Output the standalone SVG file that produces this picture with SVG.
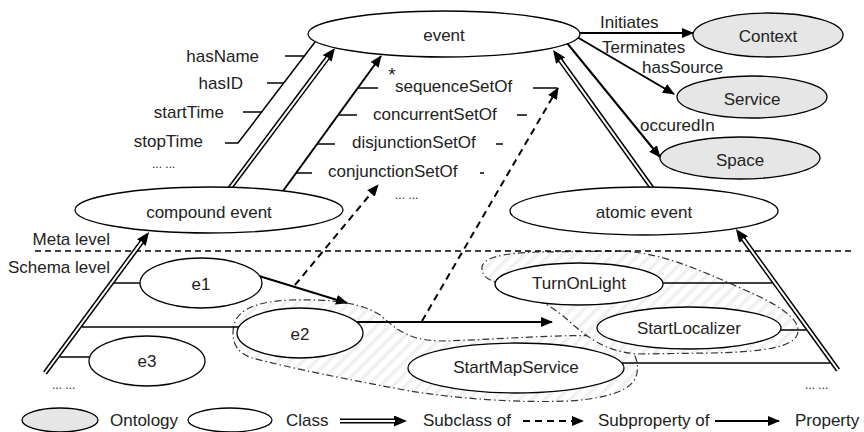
<svg xmlns="http://www.w3.org/2000/svg" width="864" height="432" viewBox="0 0 864 432">
<defs>
<style>
text { font-family: "Liberation Sans", Arial, sans-serif; font-size: 17px; fill: #222; }
.mid { text-anchor: middle; }
.end { text-anchor: end; }
.dots { font-size: 12px; }
.node { fill: #fff; stroke: #000; stroke-width: 1.3; }
.onto { fill: #e6e6e6; stroke: #000; stroke-width: 1.3; }
.prop { fill: none; stroke: #000; stroke-width: 2; }
.thin { fill: none; stroke: #000; stroke-width: 1.5; }
.sub { fill: none; stroke: #000; stroke-width: 2; stroke-dasharray: 7 5; }
.dblo { fill: none; stroke: #000; stroke-width: 5; }
.dbli { fill: none; stroke: #fff; stroke-width: 2; }
.meta { fill: none; stroke: #000; stroke-width: 1.5; stroke-dasharray: 6 4; }
.grp { fill: url(#hatch); stroke: #333; stroke-width: 1.2; stroke-dasharray: 7 3 1.5 3; }
</style>
<pattern id="hatch" width="9" height="9" patternUnits="userSpaceOnUse" patternTransform="rotate(45)">
<rect width="9" height="9" fill="#fff"/>
<rect width="3.5" height="9" fill="#f0f0f0"/>
</pattern>
<marker id="tip" viewBox="0 0 12 10" refX="11" refY="5" markerWidth="12" markerHeight="10" markerUnits="userSpaceOnUse" orient="auto">
<path d="M0,0 L12,5 L0,10 z" fill="#000"/>
</marker>
<marker id="dtip" viewBox="0 0 13 11" refX="1" refY="5.5" markerWidth="13" markerHeight="11" markerUnits="userSpaceOnUse" orient="auto">
<path d="M0,0 L13,5.5 L0,11 z" fill="#000"/>
</marker>
</defs>

<rect width="864" height="432" fill="#fff"/>

<g id="sets">
<path class="grp" d="M233,333 C233,312 250,302 290,300 C330,299 360,302 380,315 C395,327 405,340 440,341 C490,340 560,334 600,336 C628,338 640,355 637,373 C634,390 610,398 570,401 C520,403 460,399 410,391 C350,380 290,368 252,358 C238,353 233,345 233,333 Z"/>
<path class="grp" d="M482,270 C480,258 500,253 540,252 L620,251 C660,252 700,270 745,290 C775,303 800,318 798,332 C796,348 760,352 710,353 L640,354 C610,353 590,340 570,322 C550,303 520,290 495,282 C487,279 483,276 482,270 Z"/>
</g>

<g id="levels">
<line class="meta" x1="35" y1="251" x2="855" y2="251"/>
<text class="end" x="110" y="245">Meta level</text>
<text class="end" x="110" y="273">Schema level</text>
</g>

<g id="connectors">
<path class="dblo" d="M230,188 L327.8,57.6" marker-end="url(#dtip)"/>
<path class="dbli" d="M230,188 L327.8,57.6"/>
<path class="dblo" d="M652,188 L560,59.8" marker-end="url(#dtip)"/>
<path class="dbli" d="M652,188 L560,59.8"/>
<path class="dblo" d="M45,373 L141.9,241.7" marker-end="url(#dtip)"/>
<path class="dbli" d="M45,373 L141.9,241.7"/>
<path class="dblo" d="M838,370 L743,238.7" marker-end="url(#dtip)"/>
<path class="dbli" d="M838,370 L743,238.7"/>

<path class="thin" d="M315,42 L238,143 L225,143"/>
<line class="thin" x1="285" y1="56" x2="305" y2="56"/>
<line class="thin" x1="267" y1="83" x2="284" y2="83"/>
<line class="thin" x1="243" y1="112" x2="262" y2="112"/>

<path class="prop" d="M283,191 L381,56" marker-end="url(#tip)"/>
<line class="thin" x1="358" y1="88" x2="378" y2="88"/>
<line class="thin" x1="338" y1="115" x2="357" y2="115"/>
<line class="thin" x1="317" y1="144" x2="335" y2="144"/>
<line class="thin" x1="296" y1="173" x2="312" y2="173"/>
<line class="thin" x1="533" y1="88" x2="557" y2="88"/>
<line class="thin" x1="517" y1="115" x2="527" y2="115"/>
<line class="thin" x1="496" y1="144" x2="503" y2="144"/>
<line class="thin" x1="480" y1="173" x2="484" y2="173"/>

<path class="prop" d="M580,33 L693,33" marker-end="url(#tip)"/>
<path class="prop" d="M577,37 L674,94" marker-end="url(#tip)"/>
<path class="prop" d="M567,43 L660,157" marker-end="url(#tip)"/>

<path class="prop" d="M259,276 L347,303" marker-end="url(#tip)"/>
<path class="prop" d="M357,322 L552,322" marker-end="url(#tip)"/>
<path class="sub" d="M295,285 L378,185" marker-end="url(#tip)"/>
<path class="sub" d="M422,321 L558,88" marker-end="url(#tip)"/>

<line class="thin" x1="114" y1="283" x2="140" y2="283"/>
<line class="thin" x1="82" y1="327" x2="239" y2="327"/>
<line class="thin" x1="60" y1="357" x2="89" y2="357"/>
<line class="thin" x1="663" y1="283" x2="772" y2="283"/>
<line class="thin" x1="781" y1="330" x2="806" y2="330"/>
<line class="thin" x1="622" y1="363" x2="830" y2="363"/>
</g>

<g id="labels">
<text class="end" x="259" y="62">hasName</text>
<text class="end" x="243" y="89">hasID</text>
<text class="end" x="224" y="118">startTime</text>
<text class="end" x="203" y="147">stopTime</text>
<text class="dots" x="152" y="168">... ...</text>
<text x="395" y="92">sequenceSetOf</text>
<text x="373" y="120">concurrentSetOf</text>
<text x="352" y="148">disjunctionSetOf</text>
<text x="328" y="177">conjunctionSetOf</text>
<text class="dots" x="395" y="199">... ...</text>
<text class="mid" x="392" y="81" style="font-size:19px">*</text>
<text x="600" y="28">Initiates</text>
<text x="602" y="53">Terminates</text>
<text x="642" y="73">hasSource</text>
<text x="640" y="131">occuredIn</text>
<text class="dots" x="52" y="389">... ...</text>
<text class="dots" x="805" y="389">... ...</text>
</g>

<g id="event"><ellipse class="node" cx="444" cy="34" rx="136" ry="23"/><text class="mid" x="444" y="41">event</text></g>
<g id="context"><ellipse class="onto" cx="768" cy="35" rx="75" ry="22"/><text class="mid" x="768" y="42">Context</text></g>
<g id="service"><ellipse class="onto" cx="752" cy="97" rx="75" ry="21"/><text class="mid" x="752" y="105">Service</text></g>
<g id="space"><ellipse class="onto" cx="740" cy="158" rx="80" ry="21"/><text class="mid" x="740" y="166">Space</text></g>
<g id="compound-event"><ellipse class="node" cx="209" cy="210" rx="134" ry="23"/><text class="mid" x="209" y="218">compound event</text></g>
<g id="atomic-event"><ellipse class="node" cx="644" cy="211" rx="134" ry="24"/><text class="mid" x="644" y="218">atomic event</text></g>
<g id="e1"><ellipse class="node" cx="201" cy="283" rx="61" ry="25"/><text class="mid" x="201" y="290">e1</text></g>
<g id="e2"><ellipse class="node" cx="300" cy="333" rx="63" ry="25"/><text class="mid" x="300" y="340">e2</text></g>
<g id="e3"><ellipse class="node" cx="147" cy="361" rx="58" ry="25"/><text class="mid" x="147" y="367">e3</text></g>
<g id="turnonlight"><ellipse class="node" cx="579" cy="284" rx="84" ry="21"/><text class="mid" x="579" y="289">TurnOnLight</text></g>
<g id="startlocalizer"><ellipse class="node" cx="689" cy="328" rx="92" ry="21"/><text class="mid" x="689" y="334">StartLocalizer</text></g>
<g id="startmapservice"><ellipse class="node" cx="516" cy="368" rx="108" ry="25"/><text class="mid" x="516" y="373">StartMapService</text></g>

<g id="legend">
<ellipse class="onto" cx="60" cy="420" rx="38" ry="12"/>
<text x="110" y="426">Ontology</text>
<ellipse class="node" cx="230" cy="420" rx="42" ry="12"/>
<text x="286" y="426">Class</text>
<path class="dblo" d="M340,421 L395,421" marker-end="url(#dtip)"/>
<path class="dbli" d="M340,421 L395,421"/>
<text x="423" y="426">Subclass of</text>
<path class="sub" d="M523,421 L583,421" marker-end="url(#tip)"/>
<text x="598" y="426">Subproperty of</text>
<path class="prop" d="M715,421 L779,421" marker-end="url(#tip)"/>
<text x="795" y="426">Property</text>
</g>
</svg>
